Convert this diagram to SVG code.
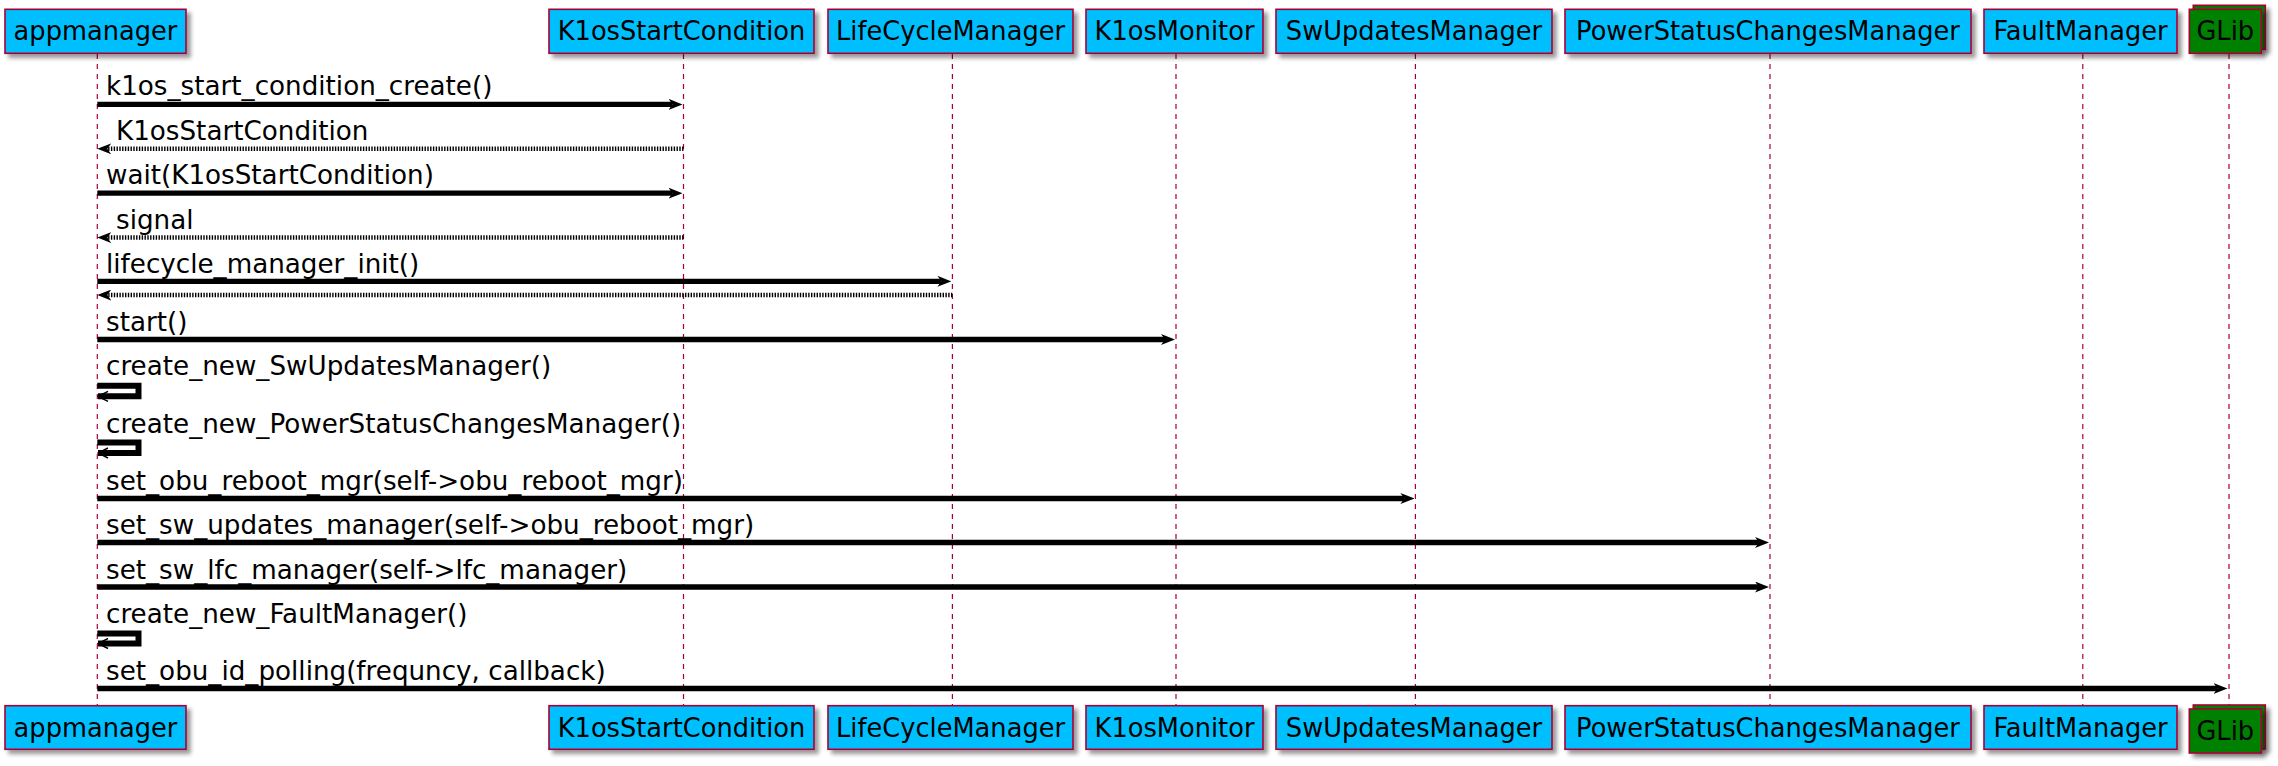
<svg xmlns="http://www.w3.org/2000/svg" width="2278" height="766" viewBox="0 0 2278 766">
<style>
.box{fill:#00BFFF;stroke:#A80036;stroke-width:1.6;filter:url(#sh)}
.glib{fill:#008000;stroke:#A80036;stroke-width:1.6;filter:url(#sh)}
.pt{font-family:"DejaVu Sans",sans-serif;font-size:25.7px;fill:#000;text-anchor:middle}
.mt{font-family:"DejaVu Sans",sans-serif;font-size:26.2px;fill:#000}
.life{stroke:#A80036;stroke-width:1.2;stroke-dasharray:5,5;fill:none}
.msg{stroke:#000;stroke-width:5.3;fill:none;marker-end:url(#ah)}
.ret{stroke:#000;stroke-width:4.5;stroke-dasharray:1.4,1.4;fill:none;marker-end:url(#ah)}
.self{stroke:#000;stroke-width:6;fill:none;marker-end:url(#oh)}
</style>
<defs>
<filter id="sh" x="-10%" y="-20%" width="130%" height="150%">
<feGaussianBlur in="SourceAlpha" stdDeviation="2"/>
<feOffset dx="4" dy="4" result="b"/>
<feComponentTransfer><feFuncA type="linear" slope="0.4"/></feComponentTransfer>
<feMerge><feMergeNode/><feMergeNode in="SourceGraphic"/></feMerge>
</filter>
<marker id="ah" viewBox="0 0 14 11" refX="4" refY="5.5" markerWidth="14" markerHeight="11" markerUnits="userSpaceOnUse" orient="auto">
<path d="M0,0 L14,5.5 L0,11 L4,5.5 Z" fill="#000"/>
</marker>
<marker id="oh" viewBox="0 0 12 12" refX="11" refY="6" markerWidth="12" markerHeight="12" markerUnits="userSpaceOnUse" orient="auto">
<path d="M1,1 L11,6 L1,11" fill="none" stroke="#000" stroke-width="1.5"/>
</marker>
</defs>
<rect width="2278" height="766" fill="#fff"/>
<g id="lifelines">
<line class="life" x1="97.3" y1="54" x2="97.3" y2="705"/>
<line class="life" x1="683.5" y1="54" x2="683.5" y2="705"/>
<line class="life" x1="952.4" y1="54" x2="952.4" y2="705"/>
<line class="life" x1="1176" y1="54" x2="1176" y2="705"/>
<line class="life" x1="1415.4" y1="54" x2="1415.4" y2="705"/>
<line class="life" x1="1770" y1="54" x2="1770" y2="705"/>
<line class="life" x1="2082.8" y1="54" x2="2082.8" y2="705"/>
<line class="life" x1="2229" y1="54" x2="2229" y2="705"/>
</g>
<g id="appmanager">
<rect class="box" x="5" y="9.3" width="181" height="44"/>
<text class="pt" x="95.5" y="40">appmanager</text>
<rect class="box" x="5" y="705.7" width="181" height="43.6"/>
<text class="pt" x="95.5" y="736.5">appmanager</text>
</g>
<g id="K1osStartCondition">
<rect class="box" x="549" y="9.3" width="265" height="44"/>
<text class="pt" x="681.5" y="40">K1osStartCondition</text>
<rect class="box" x="549" y="705.7" width="265" height="43.6"/>
<text class="pt" x="681.5" y="736.5">K1osStartCondition</text>
</g>
<g id="LifeCycleManager">
<rect class="box" x="828" y="9.3" width="245" height="44"/>
<text class="pt" x="950.5" y="40">LifeCycleManager</text>
<rect class="box" x="828" y="705.7" width="245" height="43.6"/>
<text class="pt" x="950.5" y="736.5">LifeCycleManager</text>
</g>
<g id="K1osMonitor">
<rect class="box" x="1086" y="9.3" width="177" height="44"/>
<text class="pt" x="1174.5" y="40">K1osMonitor</text>
<rect class="box" x="1086" y="705.7" width="177" height="43.6"/>
<text class="pt" x="1174.5" y="736.5">K1osMonitor</text>
</g>
<g id="SwUpdatesManager">
<rect class="box" x="1276" y="9.3" width="276" height="44"/>
<text class="pt" x="1414" y="40">SwUpdatesManager</text>
<rect class="box" x="1276" y="705.7" width="276" height="43.6"/>
<text class="pt" x="1414" y="736.5">SwUpdatesManager</text>
</g>
<g id="PowerStatusChangesManager">
<rect class="box" x="1565" y="9.3" width="406" height="44"/>
<text class="pt" x="1768" y="40">PowerStatusChangesManager</text>
<rect class="box" x="1565" y="705.7" width="406" height="43.6"/>
<text class="pt" x="1768" y="736.5">PowerStatusChangesManager</text>
</g>
<g id="FaultManager">
<rect class="box" x="1984" y="9.3" width="193" height="44"/>
<text class="pt" x="2080.5" y="40">FaultManager</text>
<rect class="box" x="1984" y="705.7" width="193" height="43.6"/>
<text class="pt" x="2080.5" y="736.5">FaultManager</text>
</g>
<g id="GLib">
<rect class="glib" x="2193.3" y="5.3" width="72" height="44"/>
<rect class="glib" x="2189.3" y="9.3" width="72" height="44"/>
<text class="pt" x="2225.3" y="40">GLib</text>
<rect class="glib" x="2193.3" y="705" width="72" height="44"/>
<rect class="glib" x="2189.3" y="709" width="72" height="44"/>
<text class="pt" x="2225.3" y="740">GLib</text>
</g>
<g id="connectors">
<line class="msg" x1="97.3" y1="104.4" x2="672.5" y2="104.4"/>
<line class="ret" x1="683.5" y1="148.8" x2="107.3" y2="148.8"/>
<line class="msg" x1="97.3" y1="193.2" x2="672.5" y2="193.2"/>
<line class="ret" x1="683.5" y1="237.6" x2="107.3" y2="237.6"/>
<line class="msg" x1="97.3" y1="281.3" x2="941.4" y2="281.3"/>
<line class="ret" x1="952.4" y1="295" x2="107.3" y2="295"/>
<line class="msg" x1="97.3" y1="339.5" x2="1165" y2="339.5"/>
<path class="self" d="M97.3,385.8 H138.5 V396.3 H98"/>
<path class="self" d="M97.3,442.6 H138.5 V453 H98"/>
<line class="msg" x1="97.3" y1="498.5" x2="1404.4" y2="498.5"/>
<line class="msg" x1="97.3" y1="542.5" x2="1759" y2="542.5"/>
<line class="msg" x1="97.3" y1="587" x2="1759" y2="587"/>
<path class="self" d="M97.3,633.4 H138.5 V643.5 H98"/>
<line class="msg" x1="97.3" y1="688.5" x2="2217.5" y2="688.5"/>
</g>
<g id="labels">
<text class="mt" x="106" y="95">k1os_start_condition_create()</text>
<text class="mt" x="116" y="140">K1osStartCondition</text>
<text class="mt" x="106" y="184">wait(K1osStartCondition)</text>
<text class="mt" x="116" y="229">signal</text>
<text class="mt" x="106" y="272.5">lifecycle_manager_init()</text>
<text class="mt" x="106" y="331">start()</text>
<text class="mt" x="106" y="375">create_new_SwUpdatesManager()</text>
<text class="mt" x="106" y="432.5">create_new_PowerStatusChangesManager()</text>
<text class="mt" x="106" y="490">set_obu_reboot_mgr(self-&gt;obu_reboot_mgr)</text>
<text class="mt" x="106" y="534">set_sw_updates_manager(self-&gt;obu_reboot_mgr)</text>
<text class="mt" x="106" y="578.5">set_sw_lfc_manager(self-&gt;lfc_manager)</text>
<text class="mt" x="106" y="622.5">create_new_FaultManager()</text>
<text class="mt" x="106" y="680">set_obu_id_polling(frequncy, callback)</text>
</g>
</svg>
